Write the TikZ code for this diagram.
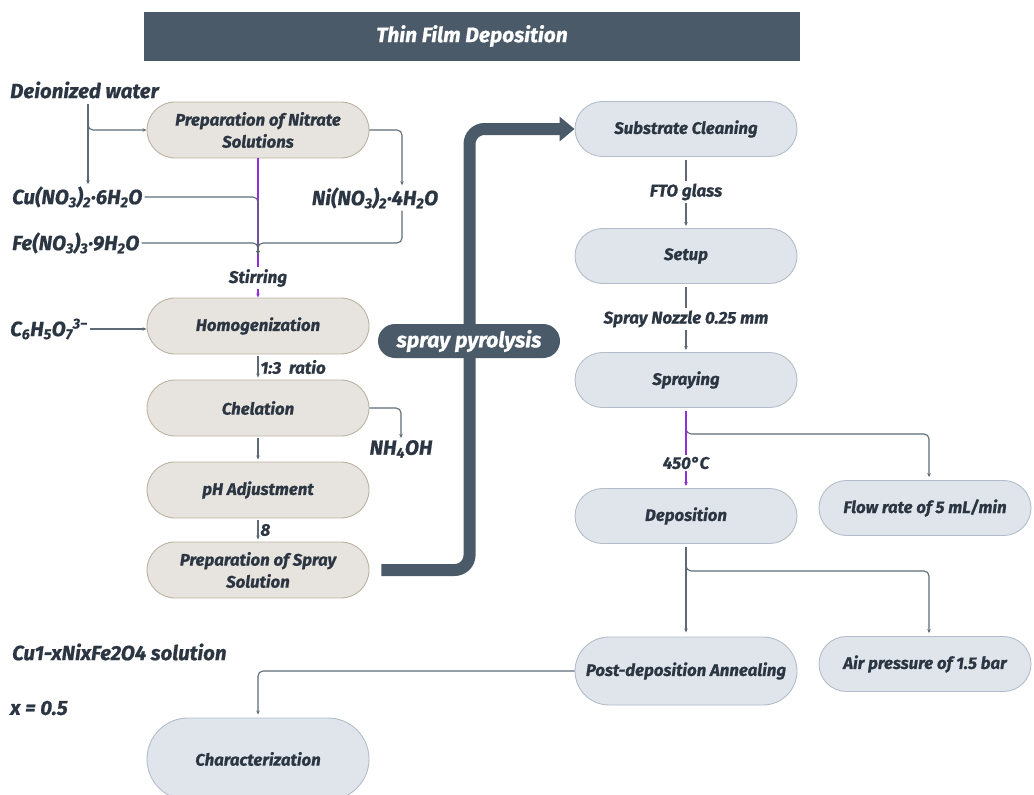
\documentclass[tikz,border=0pt]{standalone}
\usepackage{fontspec}
\setmainfont{Fira Sans}[BoldItalicFeatures={FakeBold=0.8}]
\usetikzlibrary{shapes.misc,arrows.meta,calc}
\definecolor{txt}{HTML}{2B3642}
\definecolor{bar}{HTML}{4A5A69}
\definecolor{ln}{HTML}{5E6A76}
\definecolor{purp}{HTML}{9130D9}
\definecolor{beigef}{HTML}{E7E3DE}
\definecolor{beigeb}{HTML}{BBB2A2}
\definecolor{bluef}{HTML}{E0E5EC}
\definecolor{blueb}{HTML}{B3BDC9}
\begin{document}
\begin{tikzpicture}[x=1pt,y=-1pt,
  every node/.style={font=\bfseries\itshape\fontsize{17}{20}\selectfont, text=txt, inner sep=2pt},
  pillA/.style={rounded rectangle, draw=beigeb, fill=beigef, line width=0.9pt, minimum width=226pt, minimum height=56pt, align=center, font=\bfseries\itshape\fontsize{16.8}{22}\selectfont},
  pillB/.style={rounded rectangle, draw=blueb, fill=bluef, line width=0.9pt, minimum width=226pt, minimum height=55pt, align=center, font=\bfseries\itshape\fontsize{16.8}{22}\selectfont},
  lbl/.style={font=\bfseries\itshape\fontsize{17}{19}\selectfont},
  chem/.style={font=\bfseries\itshape\fontsize{20.5}{23}\selectfont},
  conn/.style={draw=ln, line width=1.1pt, -{Stealth[length=4pt,width=3.5pt]}},
  plain/.style={draw=ln, line width=1.1pt},
  purpl/.style={draw=purp, line width=1.1pt},
  purpa/.style={draw=purp, line width=1.1pt, -{Stealth[length=4pt,width=3.5pt]}},
  big/.style={draw=bar, line width=12pt, -{Triangle[length=15pt,width=24pt]}}
]
\useasboundingbox (0,0) rectangle (1034,795);

% title
\node[rectangle, fill=bar, minimum width=656pt, minimum height=49pt, text=white,
      font=\bfseries\itshape\fontsize{21}{24}\selectfont] (title) at (472,36) {Thin Film Deposition};

% left column
\node[pillA] (nit) at (258,130) {Preparation of Nitrate\\Solutions};
\node[pillA] (homo) at (258,326) {Homogenization};
\node[pillA] (chel) at (258,408) {Chelation};
\node[pillA] (ph) at (258,490) {pH Adjustment};
\node[pillA] (sps) at (258,570) {Preparation of Spray\\Solution};

\node[chem, anchor=west] (diw) at (8,90) {Deionized water};
\node[chem, anchor=west] (cu) at (10,197) {Cu(NO\textsubscript{3})\textsubscript{2}·6H\textsubscript{2}O};
\node[chem, anchor=west] (fe) at (10,243) {Fe(NO\textsubscript{3})\textsubscript{3}·9H\textsubscript{2}O};
\node[chem] (ni) at (375,198) {Ni(NO\textsubscript{3})\textsubscript{2}·4H\textsubscript{2}O};
\node[chem, anchor=west] (cit) at (8,329) {C\textsubscript{6}H\textsubscript{5}O\textsubscript{7}\textsuperscript{3−}};
\node[chem] (nh) at (401,449) {NH\textsubscript{4}OH};
\node[lbl] (stir) at (258,278) {Stirring};

% right column
\node[pillB] (sub) at (686,129) {Substrate Cleaning};
\node[pillB] (setup) at (686,256) {Setup};
\node[pillB] (spr) at (686,380) {Spraying};
\node[pillB] (dep) at (686,516) {Deposition};
\node[pillB, minimum width=216pt] (flow) at (925,508) {Flow rate of 5 mL/min};
\node[pillB, minimum height=68pt] (post) at (686,671) {Post-deposition Annealing};
\node[pillB, minimum width=216pt] (air) at (925,664) {Air pressure of 1.5 bar};
\node[pillB, minimum height=82pt] (char) at (258,759) {Characterization};

\node[lbl] (fto) at (686,192) {FTO glass};
\node[lbl] (noz) at (686,319) {Spray Nozzle 0.25 mm};
\node[lbl] (temp) at (686,463) {450°C};

\node[chem, anchor=west] (sol) at (10,652) {Cu1-xNixFe2O4 solution};
\node[chem, anchor=west] (xval) at (8,708) {x = 0.5};

% thick arrow
\draw[big, rounded corners=15pt] ($(sps.east)+(12,0)$) -| ($(sub.west)+(-105,0)$) -- (sub.west);
\node[rounded rectangle, fill=bar, minimum width=186pt, minimum height=34pt, text=white,
      font=\bfseries\itshape\fontsize{21.5}{24}\selectfont] (spy) at (469,341) {spray pyrolysis};

% left connectors
\coordinate (dwA) at (88,104);
\draw[conn] (dwA) -- (dwA |- cu.north);
\draw[conn, rounded corners=5pt] (dwA) |- (nit.west);
\draw[purpl] (nit.south) -- (stir.north);
\draw[purpa] (stir.south) -- (homo.north);
\coordinate (jn) at (258,255);
\coordinate (niX) at ($(ni.south)+(27,0)$);
\draw[conn, rounded corners=5pt] (cu.east) -| (jn);
\draw[conn, rounded corners=5pt] (fe.east) -| (jn);
\draw[conn, rounded corners=5pt] (niX) |- (fe.east -| jn) -- (jn);
\draw[conn, rounded corners=5pt] (nit.east) -| (niX |- ni.north);
\draw[conn] (cit.east) -- (cit.east -| homo.west);
\draw[conn, shorten <=2pt, shorten >=2pt] (homo.south) -- node[lbl, right] (ratio) {1:3\ \ ratio} (chel.north);
\draw[conn, shorten <=2pt, shorten >=2pt] (chel.south) -- (ph.north);
\draw[conn, rounded corners=5pt] (chel.east) -| (nh.north);
\draw[conn, shorten <=2pt, shorten >=2pt] (ph.south) -- node[lbl, right] (eight) {8} (sps.north);

% right connectors
\draw[plain] ($(sub.south)+(0,3)$) -- (fto.north);
\draw[conn] (fto.south) -- ($(setup.north)+(0,-2)$);
\draw[plain] ($(setup.south)+(0,3)$) -- (noz.north);
\draw[conn] (noz.south) -- ($(spr.north)+(0,-2)$);
\draw[conn, rounded corners=5pt] ($(spr.south)+(0,3)$) -- ($(spr.south)+(0,26)$) -| ($(flow.north)+(4,-3)$);
\draw[purpl] ($(spr.south)+(0,3)$) -- (temp.north);
\draw[purpa] (temp.south) -- ($(dep.north)+(0,-2)$);
\draw[conn] ($(dep.south)+(0,3)$) -- ($(post.north)+(0,-4)$);
\draw[conn, rounded corners=5pt] ($(dep.south)+(0,3)$) -- ($(dep.south)+(0,27)$) -| ($(air.north)+(4,-3)$);
\draw[conn, rounded corners=5pt] (post.west) -| ($(char.north)+(0,-3)$);
\end{tikzpicture}
\end{document}
